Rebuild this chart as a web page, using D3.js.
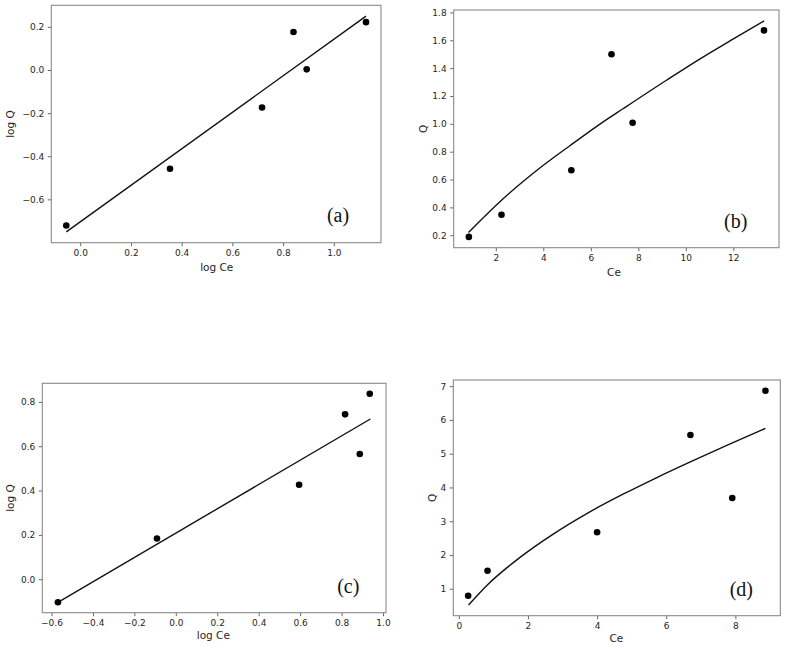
<!DOCTYPE html>
<html>
<head>
<meta charset="utf-8">
<script src="https://cdn.jsdelivr.net/npm/d3@7"></script>
<style>
  html, body { margin: 0; padding: 0; background: #fff; }
  svg { display: block; }
</style>
</head>
<body>
<svg id="chart" width="786" height="648"></svg>
<script>
// ---- Panel (a): log Q vs log Ce (linear fit) ----
const aX = [-0.055, 0.354, 0.717, 0.841, 0.893, 1.127];
const aY = [-0.721, -0.458, -0.174, 0.176, 0.003, 0.222];
const aFitX = [-0.055, 1.127];
const aFitY = [-0.751, 0.250];
const aXTicks = [0.0, 0.2, 0.4, 0.6, 0.8, 1.0];
const aYTicks = [-0.6, -0.4, -0.2, 0.0, 0.2];

// ---- Panel (b): Q vs Ce (fitted curve) ----
const bX = [0.866, 2.24, 5.18, 6.87, 7.76, 13.29];
const bY = [0.188, 0.347, 0.667, 1.500, 1.008, 1.671];
const bFitX = [0.85, 1.06, 2.32, 3.72, 5.12, 6.40, 7.37, 9.2, 10.6, 12.0, 13.3];
const bFitY = [0.22, 0.256, 0.464, 0.665, 0.843, 1.0, 1.11, 1.315, 1.467, 1.61, 1.74];
const bXTicks = [2, 4, 6, 8, 10, 12];
const bYTicks = [0.2, 0.4, 0.6, 0.8, 1.0, 1.2, 1.4, 1.6, 1.8];

// ---- Panel (c): log Q vs log Ce (linear fit) ----
const cX = [-0.569, -0.091, 0.595, 0.817, 0.888, 0.936];
const cY = [-0.104, 0.184, 0.426, 0.744, 0.565, 0.837];
const cFitX = [-0.569, 0.939];
const cFitY = [-0.104, 0.723];
const cXTicks = [-0.6, -0.4, -0.2, 0.0, 0.2, 0.4, 0.6, 0.8, 1.0];
const cYTicks = [0.0, 0.2, 0.4, 0.6, 0.8];

// ---- Panel (d): Q vs Ce (fitted curve) ----
const dX = [0.27, 0.83, 4.00, 6.70, 7.91, 8.87];
const dY = [0.793, 1.532, 2.676, 5.552, 3.690, 6.865];
const dFitX = [0.28, 0.81, 1.77, 2.73, 3.69, 4.75, 5.7, 6.68, 7.8, 8.87];
const dFitY = [0.52, 1.10, 1.93, 2.62, 3.22, 3.80, 4.28, 4.75, 5.27, 5.75];
const dXTicks = [0, 2, 4, 6, 8];
const dYTicks = [1, 2, 3, 4, 5, 6, 7];

const panels = [
  { tag: "(a)", xs: aX, ys: aY, fx: aFitX, fy: aFitY, xt: aXTicks, yt: aYTicks,
    xfmt: ".1f", yfmt: ".1f", xlab: "log Ce", ylab: "log Q",
    box: { l: 51.3, r: 381, t: 5.3, b: 242.7 }, tagPos: [338, 215],
    xlabPos: [216.7, 267], ylabX: 10, curved: false },
  { tag: "(b)", xs: bX, ys: bY, fx: bFitX, fy: bFitY, xt: bXTicks, yt: bYTicks,
    xfmt: "d", yfmt: ".1f", xlab: "Ce", ylab: "Q",
    box: { l: 453.7, r: 779, t: 10, b: 247.7 }, tagPos: [735.7, 220.7],
    xlabPos: [614, 271.5], ylabX: 423, curved: true },
  { tag: "(c)", xs: cX, ys: cY, fx: cFitX, fy: cFitY, xt: cXTicks, yt: cYTicks,
    xfmt: ".1f", yfmt: ".1f", xlab: "log Ce", ylab: "log Q",
    box: { l: 42.3, r: 386, t: 383.3, b: 612.7 }, tagPos: [348.3, 585.7],
    xlabPos: [213.3, 635], ylabX: 10, curved: false },
  { tag: "(d)", xs: dX, ys: dY, fx: dFitX, fy: dFitY, xt: dXTicks, yt: dYTicks,
    xfmt: "d", yfmt: "d", xlab: "Ce", ylab: "Q",
    box: { l: 453.3, r: 780.3, t: 380, b: 615.7 }, tagPos: [741.3, 589.3],
    xlabPos: [616.3, 638.3], ylabX: 432.3, curved: true }
];

const svg = d3.select("#chart");
svg.append("rect").attr("width", 786).attr("height", 648).attr("fill", "#fff");

const textColor = "#262626";
const tickFont = "DejaVu Sans, sans-serif";

function padded(vals) {
  const [lo, hi] = d3.extent(vals);
  const m = (hi - lo) * 0.05;
  return [lo - m, hi + m];
}

panels.forEach(p => {
  const B = p.box;
  const x = d3.scaleLinear().domain(padded(p.xs.concat(p.fx))).range([B.l, B.r]);
  const y = d3.scaleLinear().domain(padded(p.ys.concat(p.fy))).range([B.b, B.t]);
  const g = svg.append("g");

  const xa = d3.axisBottom(x).tickValues(p.xt).tickFormat(d3.format(p.xfmt))
    .tickSize(3.5).tickPadding(3.5).tickSizeOuter(0);
  const ya = d3.axisLeft(y).tickValues(p.yt).tickFormat(d3.format(p.yfmt))
    .tickSize(3.5).tickPadding(3.5).tickSizeOuter(0);

  const gx = g.append("g").attr("transform", `translate(0,${B.b})`).call(xa);
  const gy = g.append("g").attr("transform", `translate(${B.l},0)`).call(ya);
  [gx, gy].forEach(ax => {
    ax.select(".domain").remove();
    ax.selectAll(".tick line").attr("stroke", "#555").attr("stroke-width", 0.9);
    ax.selectAll(".tick text").attr("fill", textColor)
      .style("font-family", tickFont).style("font-size", "9px");
  });

  g.append("rect")
    .attr("x", B.l).attr("y", B.t)
    .attr("width", B.r - B.l).attr("height", B.b - B.t)
    .attr("fill", "none").attr("stroke", "#8a8a8a").attr("stroke-width", 1.1);

  const fitData = p.fx.map((v, i) => [v, p.fy[i]]);
  const line = d3.line().x(d => x(d[0])).y(d => y(d[1]))
    .curve(p.curved ? d3.curveMonotoneX : d3.curveLinear);
  g.append("path").datum(fitData)
    .attr("d", line).attr("fill", "none")
    .attr("stroke", "#111").attr("stroke-width", 1.4);

  g.selectAll("circle.pt").data(p.xs.map((v, i) => [v, p.ys[i]]))
    .enter().append("circle").attr("class", "pt")
    .attr("cx", d => x(d[0])).attr("cy", d => y(d[1]))
    .attr("r", 3.3).attr("fill", "#000");

  g.append("text").text(p.xlab)
    .attr("x", p.xlabPos[0]).attr("y", p.xlabPos[1])
    .attr("text-anchor", "middle").attr("dominant-baseline", "central")
    .attr("fill", textColor)
    .style("font-family", tickFont).style("font-size", "10.5px");
  g.append("text").text(p.ylab)
    .attr("transform", `translate(${p.ylabX},${(B.t + B.b) / 2}) rotate(-90)`)
    .attr("text-anchor", "middle").attr("dominant-baseline", "central")
    .attr("fill", textColor)
    .style("font-family", tickFont).style("font-size", "10.5px");

  g.append("text").text(p.tag)
    .attr("x", p.tagPos[0]).attr("y", p.tagPos[1])
    .attr("text-anchor", "middle").attr("dominant-baseline", "central")
    .attr("fill", "#111")
    .style("font-family", "Liberation Serif, DejaVu Serif, serif").style("font-size", "20px");
});
</script>
</body>
</html>
